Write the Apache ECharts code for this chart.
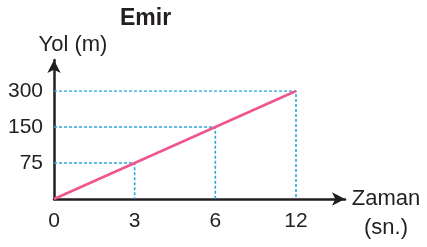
<!DOCTYPE html>
<html>
<head>
<meta charset="utf-8">
<script src="https://cdn.jsdelivr.net/npm/echarts@6/dist/echarts.min.js"></script>
<style>
html,body{margin:0;padding:0;background:#fff;}
#main{width:427px;height:247px;}
</style>
</head>
<body>
<div id="main"></div>
<script>
// Emir - yol / zaman grafigi
var timeTicks = ['0', '3', '6', '12'];
var pathTicks = ['0', '75', '150', '300'];
var timeVals = ['0', '3', '6', '12'];
var pathVals = ['0', '75', '150', '300'];

var myChart = echarts.init(document.getElementById('main'));
var font = 'Liberation Sans, Arial, sans-serif';
var ink = '#231f20';

var lineData = [];
for (var i = 0; i < timeVals.length; i++) {
    lineData.push([timeVals[i], pathVals[i]]);
}

var series = [];
// kesikli yardimci cizgiler
for (var j = 1; j < timeVals.length; j++) {
    series.push({
        type: 'line',
        data: [[timeTicks[0], pathVals[j]], [timeVals[j], pathVals[j]], [timeVals[j], pathTicks[0]]],
        symbol: 'none',
        silent: true,
        z: 1,
        lineStyle: {color: '#2ba6e0', width: 1.6, type: [3, 2]}
    });
}
series.push({
    type: 'line',
    data: lineData,
    symbol: 'none',
    z: 3,
    lineStyle: {color: '#ef5690', width: 2.5}
});

var arrowLine = {lineStyle: {color: ink, width: 2.5}, symbol: ['none', 'arrow'], symbolSize: [10, 13]};

var option = {
    animation: false,
    title: {
        text: 'Emir',
        left: 115,
        top: 2,
        textStyle: {fontFamily: font, fontSize: 23, fontWeight: 'bold', color: ink}
    },
    grid: [
        {left: 54, right: 131, top: 91, bottom: 48},
        {left: 54, right: 82, top: 60, bottom: 48}
    ],
    xAxis: [{
        type: 'category',
        gridIndex: 0,
        data: timeTicks,
        boundaryGap: false,
        axisLine: {show: false},
        axisTick: {show: false},
        splitLine: {show: false},
        axisLabel: {fontFamily: font, fontSize: 21, color: ink, margin: 12}
    }, {
        type: 'value',
        gridIndex: 1,
        name: '\nZaman\n(sn.)',
        nameLocation: 'end',
        nameGap: 41,
        nameTextStyle: {fontFamily: font, fontSize: 22, color: ink, align: 'center', verticalAlign: 'middle', lineHeight: 29},
        axisLine: arrowLine,
        axisTick: {show: false},
        splitLine: {show: false},
        axisLabel: {show: false}
    }],
    yAxis: [{
        type: 'category',
        gridIndex: 0,
        data: pathTicks,
        boundaryGap: false,
        axisLine: {show: false},
        axisTick: {show: false},
        splitLine: {show: false},
        axisLabel: {fontFamily: font, fontSize: 21, color: ink, margin: 11, showMinLabel: false}
    }, {
        type: 'value',
        gridIndex: 1,
        name: 'Yol (m)',
        nameLocation: 'end',
        nameGap: 4,
        nameTextStyle: {fontFamily: font, fontSize: 22, color: ink, align: 'center', padding: [0, 0, 0, 38]},
        axisLine: arrowLine,
        axisTick: {show: false},
        splitLine: {show: false},
        axisLabel: {show: false}
    }],
    series: series
};
myChart.setOption(option);
</script>
</body>
</html>
